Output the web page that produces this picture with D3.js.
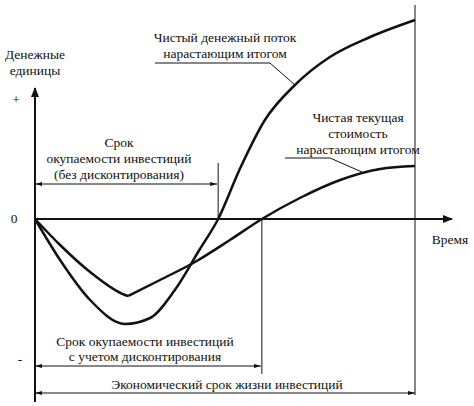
<!DOCTYPE html><html><head><meta charset="utf-8">
<script src="https://cdn.jsdelivr.net/npm/d3@7"></script>
<style>body{margin:0;background:#fff}text{font-family:"Liberation Serif","DejaVu Serif","Times New Roman",serif;font-size:13.5px;fill:#111}</style></head><body>
<svg width="474" height="406"></svg>
<script>
// time 0..10 (economic life), money units (arbitrary, px-like)
const cashT=[0,0.66,1.45,2.37,3.03,3.68,4.34,4.82,5.39,6.05,6.84,7.76,8.82,10];
const cashV=[0,-41,-81,-105,-99,-71,-30,0,50,99,134,162,182,199];
const npvT1=[0,0.66,1.45,2.37,2.45];
const npvV1=[0,-26,-53,-76,-77];
const npvT2=[2.45,3.29,4.21,5.13,5.97,6.97,8.03,9.08,10];
const npvV2=[-77,-61,-43,-21,0,21,39,50,53];
const labels={cash:["Чистый денежный поток","нарастающим итогом"],npv:["Чистая текущая","стоимость","нарастающим итогом"],
 pb1:["Срок","окупаемости инвестиций","(без дисконтирования)"],pb2:["Срок окупаемости инвестиций","с учетом дисконтирования"],
 life:"Экономический срок жизни инвестиций",yaxis:["Денежные","единицы"],xaxis:"Время"};
const svg=d3.select("svg");
const x=d3.scaleLinear().domain([0,10]).range([35,415]);
const y=d3.scaleLinear().domain([-100,100]).range([319,119]);
const defs=svg.append("defs");
defs.append("marker").attr("id","ar").attr("viewBox","0 0 10 10").attr("refX",10).attr("refY",5).attr("markerWidth",7).attr("markerHeight",7).attr("orient","auto-start-reverse").append("path").attr("d","M0,2L10,5L0,8z").attr("fill","#111");
defs.append("marker").attr("id","big").attr("viewBox","0 0 10 10").attr("refX",9).attr("refY",5).attr("markerWidth",10).attr("markerHeight",10).attr("markerUnits","userSpaceOnUse").attr("orient","auto").append("path").attr("d","M0,1L10,5L0,9z").attr("fill","#111");
const L=(x1,y1,x2,y2,w=1)=>svg.append("line").attr("x1",x1).attr("y1",y1).attr("x2",x2).attr("y2",y2).attr("stroke","#111").attr("stroke-width",w);
L(x(0),402,x(0),88,2).attr("marker-end","url(#big)");
L(x(0),y(0),452,y(0),2).attr("marker-end","url(#big)");
L(x(10),5,x(10),395,1);
const line=d3.line().x(d=>x(d[0])).y(d=>y(d[1])).curve(d3.curveMonotoneX);
const P=(t,v)=>svg.append("path").attr("d",line(d3.zip(t,v))).attr("fill","none").attr("stroke","#111").attr("stroke-width",2.5);
P(cashT,cashV);P(npvT1,npvV1);P(npvT2,npvV2);
L(x(4.82),163,x(4.82),y(0));
L(x(5.97),y(0),x(5.97),374);
L(x(0),184,x(4.82)-1,184).attr("marker-start","url(#ar)").attr("marker-end","url(#ar)");
L(x(0),366,x(5.97)-1,366).attr("marker-start","url(#ar)").attr("marker-end","url(#ar)");
L(x(0),393,x(10),393).attr("marker-start","url(#ar)").attr("marker-end","url(#ar)");
svg.append("polyline").attr("points","155,63 270,63 295,85").attr("fill","none").attr("stroke","#111");
svg.append("polyline").attr("points","285,158 330,158 362,172").attr("fill","none").attr("stroke","#111");
const T=(s,tx,ty,a="middle")=>svg.append("text").attr("x",tx).attr("y",ty).attr("text-anchor",a).text(s);
labels.cash.forEach((s,i)=>T(s,225,42+i*16));
labels.npv.forEach((s,i)=>T(s,358,122+i*16));
labels.pb1.forEach((s,i)=>T(s,119,147+i*16));
labels.pb2.forEach((s,i)=>T(s,145,346+i*15));
T(labels.life,227,389);
labels.yaxis.forEach((s,i)=>T(s,35,59+i*16));
T(labels.xaxis,450,244);
T("+",16,104);T("0",14,223);T("-",20,364);
</script></body></html>
